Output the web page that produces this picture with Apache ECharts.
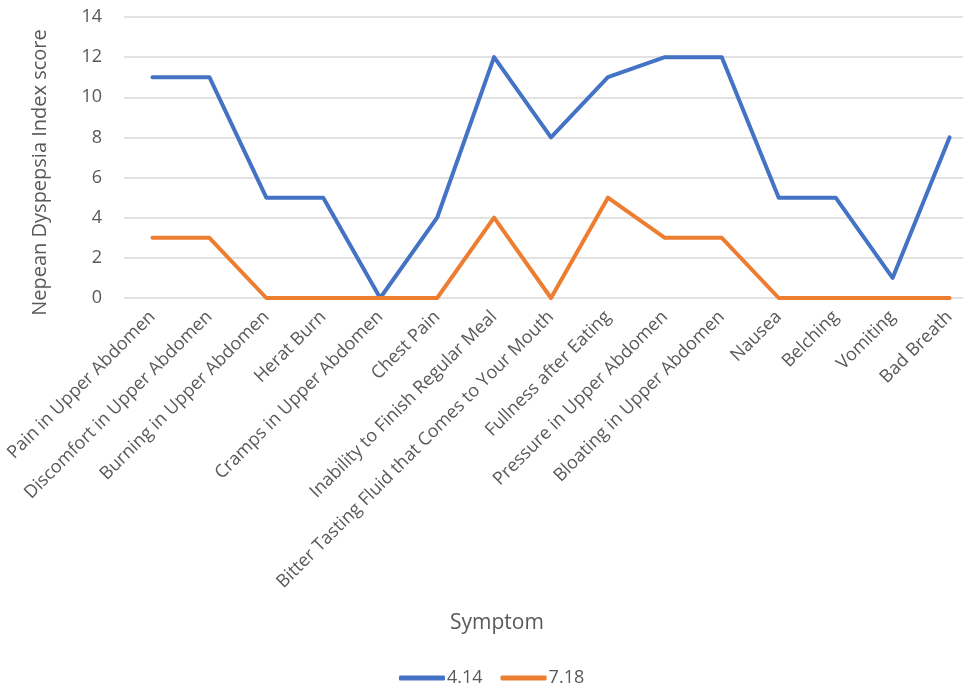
<!DOCTYPE html>
<html>
<head>
<meta charset="utf-8">
<script src="https://cdn.jsdelivr.net/npm/echarts@6/dist/echarts.min.js"></script>
<style>
  html, body { margin: 0; padding: 0; background: #fff; }
  #chart { width: 963px; height: 688px; }
</style>
</head>
<body>
<div id="chart"></div>
<script>
// symptom scores, two dates
var symptoms = ['Pain in Upper Abdomen', 'Discomfort in Upper Abdomen', 'Burning in Upper Abdomen',
    'Herat Burn', 'Cramps in Upper Abdomen', 'Chest Pain', 'Inability to Finish Regular Meal',
    'Bitter Tasting Fluid that Comes to Your Mouth', 'Fullness after Eating', 'Pressure in Upper Abdomen',
    'Bloating in Upper Abdomen', 'Nausea', 'Belching', 'Vomiting', 'Bad Breath'];
var score414 = [11, 11, 5, 5, 0, 4, 12, 8, 11, 12, 12, 5, 5, 1, 8];
var score718 = [3, 3, 0, 0, 0, 0, 4, 0, 5, 3, 3, 0, 0, 0, 0];
var yTicks = [0, 14, 2]; // min, max, step

(function () {
    var chart = echarts.init(document.getElementById('chart'));
    var font = '"Open Sans", "Noto Sans", sans-serif';

    var option = {
        textStyle: { fontFamily: font },
        color: ['#4472C4', '#ED7D31'],
        animation: false,
        title: {
            text: 'Symptom',
            left: 445,
            top: 608,
            textStyle: { fontFamily: font, fontSize: 21, fontWeight: 'normal', color: '#595959' }
        },
        legend: {
            data: ['4.14', '7.18'],
            left: 394,
            top: 664,
            icon: 'roundRect',
            itemWidth: 46,
            itemHeight: 5,
            itemGap: 18,
            textStyle: { fontFamily: font, fontSize: 18, color: '#595959', padding: [0, 0, 0, -3] }
        },
        grid: {
            left: 124,
            top: 17,
            width: 854,
            height: 281,
            containLabel: false,
            outerBoundsMode: 'none'
        },
        xAxis: {
            type: 'category',
            data: symptoms,
            boundaryGap: true,
            axisLine: { show: false },
            axisTick: { show: false },
            axisLabel: {
                rotate: 45,
                interval: 0,
                margin: 16,
                fontSize: 18,
                color: '#595959',
                fontFamily: font
            }
        },
        yAxis: {
            type: 'value',
            min: yTicks[0],
            max: yTicks[1],
            interval: yTicks[2],
            name: 'Nepean Dyspepsia Index score',
            nameLocation: 'middle',
            nameGap: 74,
            nameTextStyle: { fontSize: 20, color: '#595959', fontFamily: font, padding: [0, 30, 0, 0] },
            axisLabel: { fontSize: 18, color: '#595959', margin: 22, fontFamily: font },
            splitLine: { lineStyle: { color: '#d9d9d9', width: 1.5 } }
        },
        series: [
            {
                name: '4.14',
                type: 'line',
                data: score414,
                showSymbol: false,
                lineStyle: { width: 4, cap: 'round', join: 'round' }
            },
            {
                name: '7.18',
                type: 'line',
                data: score718,
                showSymbol: false,
                lineStyle: { width: 4, cap: 'round', join: 'round' }
            }
        ]
    };

    chart.setOption(option);
})();
</script>
</body>
</html>
